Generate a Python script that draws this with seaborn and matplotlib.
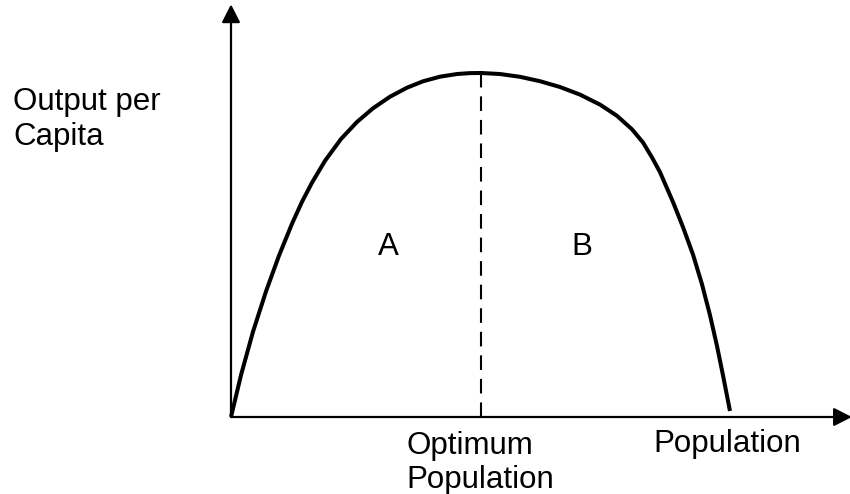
import numpy as np
import pandas as pd
import matplotlib
matplotlib.use('Agg')
import matplotlib.pyplot as plt
import seaborn as sns

# ==========================================
# Data (axes scaled 0-100)
# ==========================================
population = [0.00, 1.62, 3.55, 5.65, 7.75, 9.85, 11.47, 13.09, 15.19, 17.77,
              20.36, 22.94, 25.69, 28.43, 31.02, 33.76, 36.51, 38.61, 40.39,
              43.46, 46.69, 49.92, 53.15, 56.38, 59.61, 62.36, 64.78, 66.56,
              68.01, 69.31, 71.41, 73.02, 74.64, 76.09, 77.38, 78.51, 79.48,
              80.61]
output_per_capita = [0.00, 10.22, 20.73, 30.54, 39.25, 47.01, 52.36, 57.03,
                     62.34, 67.64, 71.80, 75.11, 77.93, 80.12, 81.68, 82.80,
                     83.45, 83.67, 83.70, 83.45, 82.77, 81.70, 80.29, 78.44,
                     76.01, 73.28, 70.00, 66.79, 63.16, 59.56, 52.29, 46.20,
                     39.51, 32.29, 24.79, 17.30, 10.15, 1.46]
optimum_x = 40.4
optimum_y = 83.7
region_labels = ['A', 'B']
region_x = [25.5, 56.7]
region_y = [39.4, 39.4]

curve_df = pd.DataFrame({'Population': population,
                         'Output': output_per_capita})

sns.set_theme(style='white')
plt.rcParams['font.family'] = ['Liberation Sans', 'DejaVu Sans']
FS = 22.5

fig = plt.figure(figsize=(8.5, 4.94), dpi=100)
ax = fig.add_axes([231 / 850, 77 / 494, 619 / 850, 411 / 494])
ax.set_xlim(0, 100)
ax.set_ylim(0, 100)
ax.patch.set_alpha(0)
for s in ax.spines.values():
    s.set_visible(False)
ax.set_xticks([])
ax.set_yticks([])

# axes drawn as arrows
arrow_kw = dict(arrowstyle='-|>,head_length=0.55,head_width=0.28',
                mutation_scale=20, color='black', lw=1.6,
                shrinkA=0, shrinkB=0)
ax.annotate('', xy=(100.3, 0), xytext=(0, 0), arrowprops=arrow_kw,
            annotation_clip=False)
ax.annotate('', xy=(0, 100.4), xytext=(0, 0), arrowprops=arrow_kw,
            annotation_clip=False)

# output per capita curve
sns.lineplot(data=curve_df, x='Population', y='Output', sort=False,
             color='black', linewidth=2.9, ax=ax, clip_on=False,
             solid_joinstyle='round', solid_capstyle='butt')
ax.set_xlabel('')
ax.set_ylabel('')

# optimum population marker
ax.vlines(optimum_x, 0, optimum_y, colors='black', linewidth=1.5,
          linestyles=[(0, (7, 4.3))])

for lab, x, y in zip(region_labels, region_x, region_y):
    ax.text(x, y, lab, ha='center', va='baseline', fontsize=FS, color='black')

# multi-line text: baseline refers to the last line
ax.text(28.4, -17.3, 'Optimum\nPopulation', ha='left', va='baseline',
        ma='left', fontsize=FS, color='black', clip_on=False)
ax.text(68.2, -8.5, 'Population', ha='left', va='baseline',
        fontsize=FS, color='black', clip_on=False)
fig.text(13 / 850, 1 - 145 / 494, 'Output per\nCapita', ha='left',
         va='baseline', ma='left', fontsize=FS, color='black')

fig.savefig('out.png', dpi=100)
